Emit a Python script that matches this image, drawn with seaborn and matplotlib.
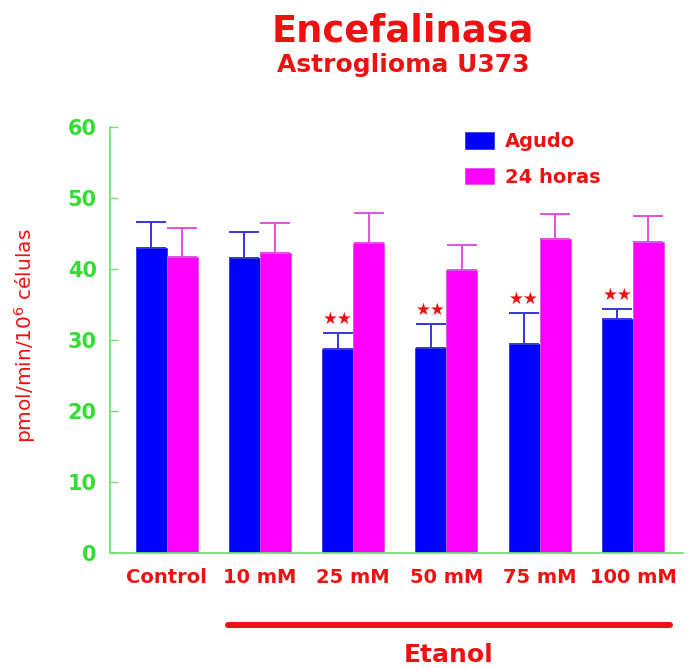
import matplotlib
matplotlib.use("Agg")
import matplotlib.pyplot as plt
from matplotlib.lines import Line2D
import seaborn as sns
import pandas as pd
import numpy as np

# Enkephalinase activity in U373 astroglioma cells exposed to ethanol
categorias = ["Control", "10 mM", "25 mM", "50 mM", "75 mM", "100 mM"]
grupos = ["Agudo", "24 horas"]
agudo = [43.0, 41.5, 28.7, 28.9, 29.4, 33.0]
agudo_err = [3.6, 3.7, 2.3, 3.4, 4.4, 1.4]
horas24 = [41.7, 42.2, 43.7, 39.9, 44.2, 43.8]
horas24_err = [4.1, 4.3, 4.2, 3.5, 3.5, 3.7]
significativo = [False, False, True, True, True, True]
yticks = [0, 10, 20, 30, 40, 50, 60]

RED = "#ee1111"
GREEN = "#33dd33"
SPINE = "#77dd77"
BLUE = "#0000ff"
MAGENTA = "#ff00ff"

sns.set_theme(style="white")
plt.rcParams["font.family"] = ["DejaVu Sans"]
plt.rcParams["mathtext.default"] = "regular"

df = pd.DataFrame({
    "conc": categorias * 2,
    "grupo": [grupos[0]] * len(categorias) + [grupos[1]] * len(categorias),
    "valor": agudo + horas24,
})

fig = plt.figure(figsize=(6.9, 6.69), dpi=100)
ax = fig.add_axes([0.1594, 0.1734, 0.8304, 0.6368])

sns.barplot(data=df, x="conc", y="valor", hue="grupo", order=categorias,
            hue_order=grupos, palette=[BLUE, MAGENTA], saturation=1,
            errorbar=None, width=0.665, gap=0, ax=ax, legend=False)

err_colors = ["#3535dd", "#e050e0"]
errs = [agudo_err, horas24_err]
for cont, err, ecol in zip(ax.containers, errs, err_colors):
    xs = [b.get_x() + b.get_width() / 2 for b in cont]
    hs = [b.get_height() for b in cont]
    for b in cont:
        b.set_edgecolor(ecol)
        b.set_linewidth(0.6)
    ax.errorbar(xs, hs, yerr=[np.zeros(len(err)), err], fmt="none",
                ecolor=ecol, elinewidth=1.4, capsize=11, capthick=1.4,
                zorder=1)

# significance marks above the acute-exposure bars
for b, e, sig in zip(ax.containers[0], agudo_err, significativo):
    if sig:
        ax.annotate("★★", (b.get_x() + b.get_width() / 2, b.get_height() + e),
                    xytext=(0, 10), textcoords="offset points",
                    ha="center", va="center", fontsize=12, color=RED)

ax.set_xlim(-0.606, 5.536)
ax.set_ylim(0, 60)
ax.set_yticks(yticks)
ax.set_xlabel("")
ax.set_ylabel("")
for s in ["top", "right"]:
    ax.spines[s].set_visible(False)
for s in ["left", "bottom"]:
    ax.spines[s].set_color(SPINE)
    ax.spines[s].set_linewidth(1.3)
ax.tick_params(axis="y", direction="in", length=6, width=1, color=SPINE,
               pad=9.5, labelsize=15, labelcolor=GREEN, left=True)
ax.tick_params(axis="x", length=0, pad=11, labelsize=14, labelcolor=RED)
for lab in ax.get_yticklabels() + ax.get_xticklabels():
    lab.set_fontweight("bold")

handles = [plt.Rectangle((0, 0), 1, 1, facecolor=BLUE, edgecolor=err_colors[0], lw=0.6),
           plt.Rectangle((0, 0), 1, 1, facecolor=MAGENTA, edgecolor=err_colors[1], lw=0.6)]
leg = fig.legend(handles, grupos, loc="upper left",
                 bbox_to_anchor=(465 / 690, 1 - 132 / 669), frameon=False,
                 borderpad=0, borderaxespad=0, handlelength=1.5,
                 handleheight=0.93, handletextpad=0.57, labelspacing=0.85,
                 prop={"size": 14, "weight": "bold"})
for t in leg.get_texts():
    t.set_color(RED)

fig.text(403 / 690, 1 - 42 / 669, "Encefalinasa", ha="center", va="baseline",
         fontsize=26.5, fontweight="bold", color=RED)
fig.text(403 / 690, 1 - 72 / 669, "Astroglioma U373", ha="center",
         va="baseline", fontsize=18, fontweight="bold", color=RED)
fig.text(25 / 690, 1 - 336 / 669, r"pmol/min/10$^6$ células", rotation=90,
         ha="center", va="center", fontsize=14.5, color=RED)

fig.add_artist(Line2D([228 / 690, 670 / 690], [1 - 625 / 669, 1 - 625 / 669],
                      transform=fig.transFigure, color=RED, lw=4.3,
                      solid_capstyle="round"))
fig.text(449 / 690, 1 - 662 / 669, "Etanol", ha="center", va="baseline",
         fontsize=18, fontweight="bold", color=RED)

fig.savefig("out.png", dpi=100, facecolor="white")
